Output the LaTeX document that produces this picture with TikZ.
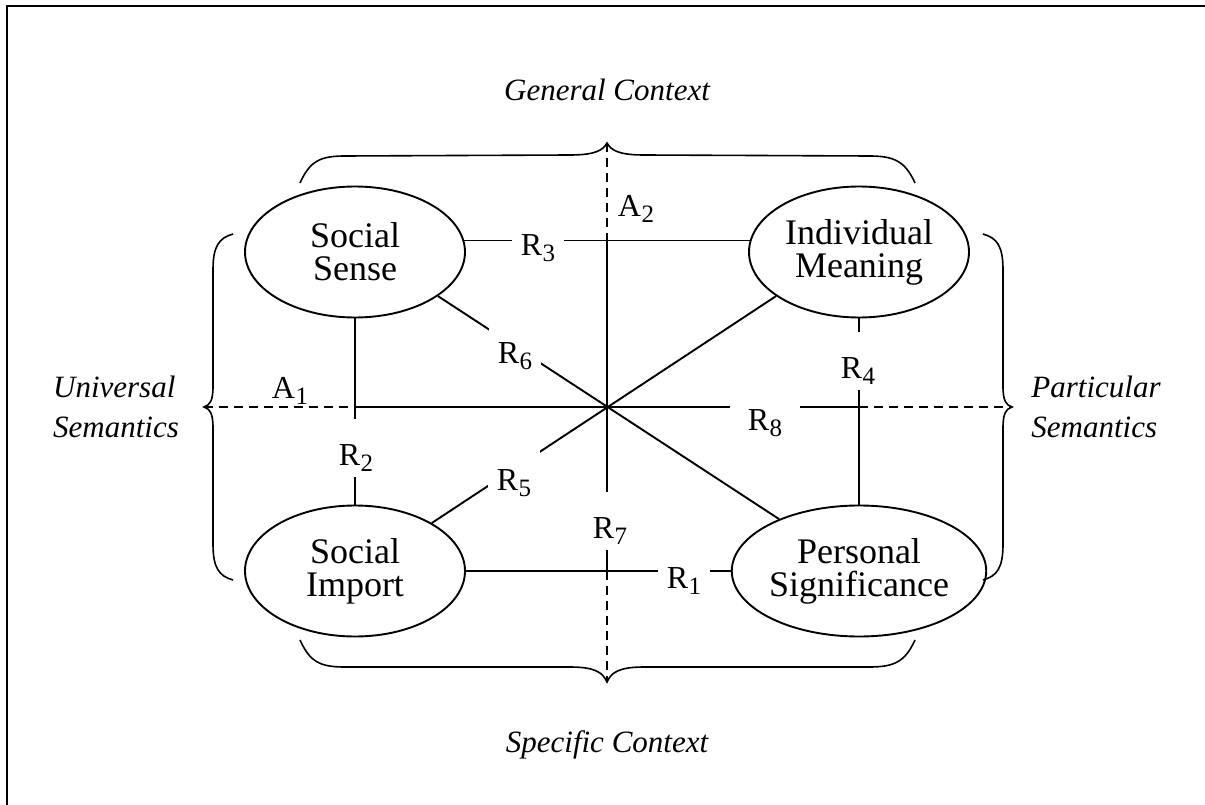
\documentclass[tikz,border=0pt]{standalone}
\usepackage{fontspec}
\setmainfont{Liberation Serif}
\usetikzlibrary{shapes.geometric}
\newcommand{\lowsub}[1]{\kern0.5pt\raisebox{-6pt}{\fontsize{25}{25}\selectfont #1}}
\begin{document}
\begin{tikzpicture}[x=1pt,y=-1pt,
  concept/.style={ellipse,draw,line width=1.9pt,minimum width=220pt,minimum height=131pt,inner sep=0pt,align=center,font=\fontsize{36}{33}\selectfont},
  rlabel/.style={fill=white,anchor=base,inner xsep=9pt,inner ysep=0pt,text height=46pt,text depth=12pt,font=\fontsize{32}{32}\selectfont},
  alabel/.style={anchor=base,inner sep=0pt,font=\fontsize{32}{32}\selectfont},
  ctx/.style={font=\fontsize{31}{40}\selectfont\itshape,align=left,inner sep=0pt},
  link/.style={line width=1.9pt},
  axisdash/.style={line width=1.8pt,dash pattern=on 9pt off 6pt},
  bracepath/.style={line width=1.6pt},
  frameline/.style={line width=2.4pt}]
\useasboundingbox (0,0) rectangle (1205,805);
% frame
\draw[frameline] (7,805) -- (7,6) -- (1205,6);

% concepts
\node[concept] (ss) at (355,252) {Social\\Sense};
\node[concept] (im) at (859,252) {Individual\\Meaning};
\node[concept] (si) at (355,571) {Social\\Import};
\node[concept] (ps) at (859,571) {Personal\\Significance};

% brace tips
\coordinate (tt) at (607,143);
\coordinate (bt) at (607,682);
\coordinate (lt) at (204,407);
\coordinate (rt) at (1012,407);

% context texts
\node[ctx] (gc) at (607,90) {General Context};
\node[ctx] (sc) at (607,745) {Specific Context};
\node[ctx] (us) at (116,407) {Universal\\Semantics};
\node[ctx] (pa) at (1096,407) {Particular\\Semantics};

% braces
\draw[bracepath] (300,183) .. controls (310,161) and (320,156) .. (345,156) -- (570,155)
  .. controls (596,155) and (603,150) .. (tt)
  .. controls (611,150) and (618,155) .. (644,155) -- (869,156)
  .. controls (894,156) and (905,161) .. (915,183);
\draw[bracepath] (300,640) .. controls (310,662) and (320,667) .. (345,667) -- (570,667)
  .. controls (596,667) and (603,673) .. (bt)
  .. controls (611,673) and (618,667) .. (644,667) -- (869,667)
  .. controls (894,667) and (905,662) .. (915,640);
\draw[bracepath] (233,234) .. controls (219,238) and (213,246) .. (213,270) -- (213,386)
  .. controls (213,401) and (210,405) .. (lt)
  .. controls (210,409) and (213,413) .. (213,428) -- (213,544)
  .. controls (213,568) and (219,576) .. (233,580);
\draw[bracepath] (983,234) .. controls (997,238) and (1003,246) .. (1003,270) -- (1003,386)
  .. controls (1003,401) and (1006,405) .. (rt)
  .. controls (1006,409) and (1003,413) .. (1003,428) -- (1003,544)
  .. controls (1003,568) and (997,576) .. (983,580);

% axes
\draw[axisdash] (tt) -- (tt |- ss.6);
\draw[link] (tt |- ss.6) -- (bt |- si.east);
\draw[axisdash] (bt |- si.east) -- (bt);
\draw[axisdash] (lt) -- (lt -| ss.south);
\draw[link] (lt -| ss.south) -- (rt -| im.south);
\draw[axisdash] (rt -| im.south) -- (rt);

% relations
\draw[link] (ss.6) -- (im.174);
\draw[link] (si.east) -- (ps.west);
\draw[link] (ss.south) -- (si.north);
\draw[link] (im.south) -- (ps.north);
\draw[link] (ss.-28) -- (ps.147);
\draw[link] (im.208) -- (si.32);

% relation labels (placed at their baselines)
\node[rlabel] (r3) at (538,255) {R\lowsub{3}};
\node[rlabel] (r1) at (684,588) {R\lowsub{1}};
\node[rlabel] (r2) at (356,465) {R\lowsub{2}};
\node[rlabel] (r4) at (858,378) {R\lowsub{4}};
\node[rlabel] (r6) at (515,363) {R\lowsub{6}};
\node[rlabel] (r5) at (514,490) {R\lowsub{5}};
\node[rlabel] (r7) at (610,538) {R\lowsub{7}};
\node[rlabel,inner xsep=18pt] (r8) at (765,430) {R\lowsub{8}};
\node[alabel] (a1) at (290,398) {A\lowsub{1}};
\node[alabel] (a2) at (636,217) {A\lowsub{2}};
\end{tikzpicture}
\end{document}
